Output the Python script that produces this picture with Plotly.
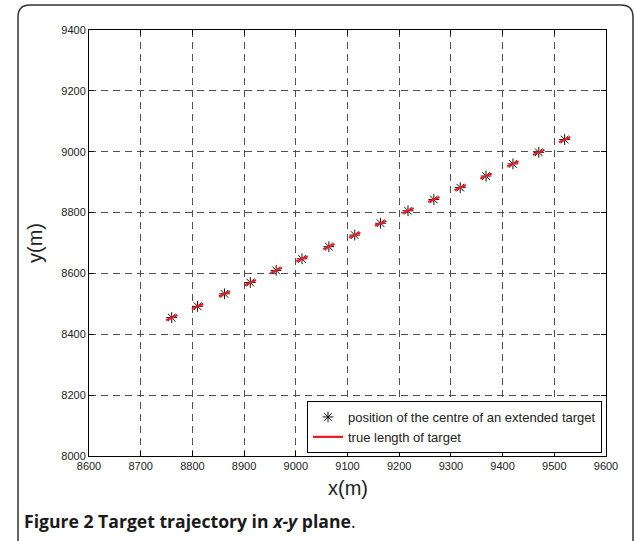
import plotly.graph_objects as go

# Estimated centre positions of the extended target (metres)
x_pos = [8760, 8810, 8862, 8912, 8962, 9012, 9064, 9114,
         9164, 9217, 9267, 9318, 9368, 9420, 9470, 9520]
y_pos = [8455, 8492, 8533, 8570, 8610, 8648, 8688, 8726,
         8765, 8806, 8843, 8882, 8920, 8960, 8998, 9040]

# Half extent of the target along its heading (metres)
half_dx = 11
half_dy = 8.5

x_ticks = [8600, 8700, 8800, 8900, 9000, 9100, 9200, 9300, 9400, 9500, 9600]
y_ticks = [8000, 8200, 8400, 8600, 8800, 9000, 9200, 9400]

W, H = 635, 541
L, R, T, B = 89, 606, 30, 456   # plot area in pixels


def px(x):
    return (x - L) / (R - L)


def py(y):
    return (B - y) / (B - T)


seg_x, seg_y = [], []
for xc, yc in zip(x_pos, y_pos):
    seg_x += [xc - half_dx, xc + half_dx, None]
    seg_y += [yc - half_dy, yc + half_dy, None]

fig = go.Figure()
fig.add_trace(go.Scatter(
    x=x_pos, y=y_pos, mode="markers",
    name="position of the centre of an extended target",
    marker=dict(symbol="asterisk-open", size=9, color="#111",
                line=dict(color="#111", width=1)),
))
fig.add_trace(go.Scatter(
    x=seg_x, y=seg_y, mode="lines",
    name="true length of target",
    line=dict(color="#ee1c24", width=2.2),
))

axis_common = dict(
    showgrid=True, gridcolor="#505050", griddash="7px,5px", gridwidth=1,
    showline=True, linecolor="black", linewidth=1, mirror="allticks",
    ticks="inside", ticklen=5, tickcolor="black",
    tickfont=dict(family="Liberation Sans, Arial", size=11, color="#222"),
    zeroline=False,
)

fig.update_xaxes(range=[8600, 9600], tickvals=x_ticks, **axis_common)
fig.update_yaxes(range=[8000, 9400], tickvals=y_ticks, **axis_common)

# Rounded frame around the figure panel
x0, y0, x1, y1, r = px(18), py(5), px(633), py(548), 12 / (R - L)
ry = 12 / (B - T)
frame_path = (
    f"M {x0 + r},{y0} L {x1 - r},{y0} Q {x1},{y0} {x1},{y0 - ry} "
    f"L {x1},{y1} M {x0 + r},{y0} Q {x0},{y0} {x0},{y0 - ry} L {x0},{y1}"
)
fig.add_shape(type="path", path=frame_path, xref="paper", yref="paper",
              line=dict(color="#333", width=1.5), layer="below")

fig.update_layout(
    width=W, height=H,
    margin=dict(l=L, r=W - R, t=T, b=H - B),
    paper_bgcolor="white", plot_bgcolor="white",
    showlegend=True,
    legend=dict(
        x=px(307), y=py(453), xanchor="left", yanchor="bottom",
        bgcolor="white", bordercolor="black", borderwidth=1,
        font=dict(family="Liberation Sans, Arial", size=13, color="#222"),
        tracegroupgap=0, itemwidth=30,
    ),
    annotations=[
        dict(text="x(m)", x=px(348), y=py(488), xref="paper", yref="paper",
             xanchor="center", yanchor="middle", showarrow=False,
             font=dict(family="Liberation Sans, Arial", size=20, color="#222")),
        dict(text="y(m)", x=px(35), y=py(243), xref="paper", yref="paper",
             xanchor="center", yanchor="middle", showarrow=False, textangle=-90,
             font=dict(family="Liberation Sans, Arial", size=20, color="#222")),
        dict(text="<b>Figure 2 Target trajectory in <i>x-y</i> plane</b>.",
             x=px(22), y=py(521), xref="paper", yref="paper",
             xanchor="left", yanchor="middle", showarrow=False,
             font=dict(family="Open Sans", size=17.6, color="#1a1a1a")),
    ],
)

fig.write_html("out.html")
